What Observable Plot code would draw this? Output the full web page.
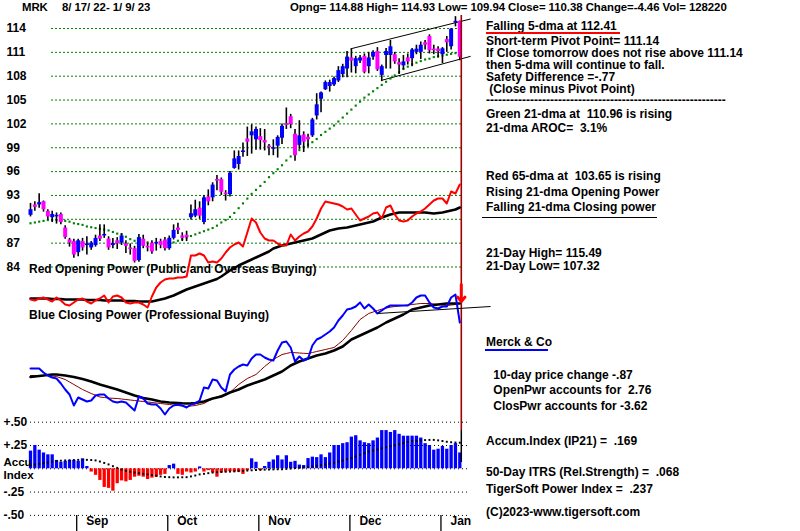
<!DOCTYPE html>
<html><head><meta charset="utf-8">
<script src="https://cdn.jsdelivr.net/npm/d3@7"></script>
<script src="https://cdn.jsdelivr.net/npm/@observablehq/plot@0.6"></script>
<style>
body{margin:0;background:#fff;}
#c{position:relative;width:800px;height:531px;overflow:hidden;font-family:"Liberation Sans",Arial,sans-serif;font-weight:bold;font-size:12px;color:#000;}
#c svg{position:absolute;left:0;top:0;}
.t{position:absolute;white-space:pre;line-height:11px;}
#c .h{font-size:11.4px;letter-spacing:-0.05px;}
.u{position:absolute;}
</style></head><body><div id="c"></div>
<script>
// ---- price candles (trading days 8/17/22 .. 1/9/23) ----
const opens = [90.5,91.8,91.8,92.2,91.0,90.2,90.3,90.6,88.9,87.4, 87.2,85.8,87.2,86.7,86.4,86.7,87.9,87.9,87.5,86.7, 87.3,87.0,86.9,86.4,86.3,84.8,87.5,86.6,87.0,86.9, 87.2,87.4,86.3,87.6,88.9,87.9,88.0,90.2,90.4,91.4, 89.6,92.8,92.7,95.0,95.0,93.3,93.1,96.4,96.9,98.4, 100.1,100.5,100.0,100.4,99.9,99.2,98.8,99.2,100.2,102.0, 102.9,100.7,99.3,100.6,100.3,100.5,103.0,105.1,106.3,106.7, 106.9,107.4,108.2,108.9,110.3,109.2,109.9,110.5,109.2,110.4, 111.1,108.1,110.6,110.6,110.7,109.7,109.3,110.3,110.2,111.0, 111.0,112.2,113.0,111.4,111.4,110.7,112.6,111.7,114.7,114.88];
const highs = [92.0,92.2,93.2,92.3,91.2,91.0,90.8,90.8,89.2,87.6, 87.5,87.5,87.6,87.8,87.2,88.0,89.3,89.3,87.8,87.6, 87.7,88.2,87.3,86.9,86.6,88.1,88.0,87.0,87.3,87.6, 87.5,87.7,87.9,89.3,89.5,88.3,88.5,91.8,92.4,92.2, 93.0,93.7,94.6,95.5,95.2,93.6,96.0,98.6,98.6,99.6, 101.6,101.9,101.6,101.4,101.3,99.4,100.0,100.5,102.0,104.0, 103.2,101.3,102.4,101.0,100.7,102.7,105.8,106.0,107.4,107.5, 107.9,109.2,109.5,111.1,111.4,110.5,110.6,110.8,111.0,111.2, 111.6,109.4,111.5,112.5,111.0,110.2,110.6,110.8,111.5,111.9, 112.3,112.5,113.2,111.9,111.7,111.6,113.0,114.0,115.49,114.93];
const lows = [90.3,91.0,91.4,90.9,89.9,89.6,89.4,89.3,87.5,86.5, 85.1,85.3,86.0,85.5,86.1,86.5,87.2,87.6,86.1,86.3, 86.2,86.7,85.7,85.5,84.5,84.6,86.3,85.9,85.6,86.0, 86.3,86.0,86.1,87.4,88.1,87.2,87.2,89.9,90.2,90.0, 89.3,91.7,92.2,93.6,93.0,92.3,92.8,96.3,96.2,97.8, 97.9,98.2,98.7,98.7,98.6,98.0,98.0,97.7,99.4,101.3, 101.4,97.3,98.8,98.4,99.0,100.3,102.5,103.4,106.2,106.0, 106.7,107.2,107.8,107.8,108.4,108.3,109.6,108.3,108.3,110.0, 108.6,107.32,108.9,108.9,109.5,108.2,108.8,109.4,109.2,110.7, 110.1,111.3,110.8,110.7,110.3,109.6,111.0,111.3,114.2,109.94];
const closes = [91.2,91.5,92.1,91.2,90.3,90.6,90.5,89.6,87.7,87.0, 85.5,87.3,86.4,86.9,87.0,87.6,87.5,88.1,86.4,86.95, 86.9,87.9,86.6,86.2,84.7,87.7,86.6,86.4,85.9,87.1, 86.7,86.3,87.6,88.6,88.6,87.6,87.7,90.7,91.2,90.4, 92.7,92.2,94.3,94.8,93.4,93.1,95.8,97.6,97.9,98.6, 99.7,101.0,101.3,99.9,99.6,99.0,99.0,100.3,101.7,101.8, 101.9,98.0,100.5,99.7,100.0,102.5,104.4,105.9,107.2,107.2, 107.7,108.7,109.2,110.4,109.9,110.2,110.3,108.5,110.3,111.0, 108.8,109.2,111.1,111.7,109.8,109.4,109.8,109.8,111.3,111.4, 111.9,111.9,111.2,111.2,111.1,111.45,112.2,113.9,114.9,110.38];
// green 21-dma and red 65-dma
const ma21 = [89.5,89.6,89.7,89.8,89.9,89.9,89.9,89.9,89.8,89.7, 89.5,89.4,89.3,89.1,89.0,88.9,88.8,88.7,88.6,88.4, 88.2,88.1,87.8,87.5,87.3,87.2,87.1,87.1,87.0,87.0, 87.0,87.0,87.0,87.1,87.3,87.5,87.7,87.9,88.1,88.3, 88.5,88.7,88.9,89.2,89.6,89.9,90.3,90.8,91.4,92.0, 92.6,93.2,93.7,94.2,94.7,95.3,95.8,96.3,96.8,97.4, 97.9,98.3,98.7,99.1,99.4,99.7,100.1,100.6,101.0,101.4, 101.8,102.3,102.8,103.3,103.8,104.3,104.8,105.3,105.7,106.1, 106.5,106.9,107.3,107.7,108.1,108.5,108.9,109.2,109.5,109.7, 109.9,110.1,110.2,110.4,110.5,110.6,110.7,110.8,110.9,110.96];
const ma65 = [90.9,90.8,90.7,90.7,90.6,90.5,90.5,90.4,90.3,90.2, 90.1,90.0,89.9,89.9,89.9,89.8,89.8,89.8,89.8,89.8, 89.9,89.9,89.9,89.9,89.9,89.8,89.8,89.7,89.6,89.5, 89.4,89.3,89.2,89.15,89.1,89.0,89.0,88.9,88.9,88.9, 88.9,88.9,88.9,88.9,89.0,89.1,89.2,89.3,89.4,89.6, 89.7,89.9,90.1,90.3,90.5,90.7,90.8,90.9,91.1,91.2, 91.3,91.5,91.6,91.8,92.1,92.3,92.6,92.9,93.1,93.3, 93.6,93.8,94.0,94.3,94.5,94.8,95.1,95.5,95.8,96.2, 96.5,96.8,97.2,97.5,97.9,98.3,98.7,99.1,99.5,100.0, 100.4,100.8,101.3,101.7,102.0,102.4,102.8,103.2,103.5,103.7];
// Opening power (red) and its MA (black), arbitrary units
const openPower = [11,10,12,13,11,9,13,10,6,5, 8,11,12,9,7,10,12,15,8,14, 15,13,8,7,8,8,6,3,14,23, 28,31,32,32,33,33,34,55,55,57, 55,48,49,48,52,58,63,66,68,64, 78,92,88,78,72,70,70,67,65,65, 76,70,74,77,79,84,92,102,109,108, 107,106,104,101,102,96,90,92,94,97, 98,92,103,105,96,90,89,90,94,97, 99,102,106,110,112,112,107,119,117,126];
const openPowerMA = [12,12,12,12,12,11.5,11.5,11.5,11,11, 11,11,11,10.5,10.5,10.5,10.5,10,10,10, 10,10,9.5,9.5,9.5,9,9,9,9,10, 11,12,13.5,15,17,19,21,22.5,24,25.5, 27,28.5,30,31.5,34,37,40,42.5,45,47, 49,51,53,55,57,59,62,63.5,65,66, 67,68,69,70,71,72,74,76,78,80, 81,82,82.5,83,84,85,86,87,88,89, 91,93,94.5,96,97,98,98,98,98,98, 98,98,97.5,97,97.5,98,99,100,101,103];
// Closing power (blue) and its MAs (brown thin, black thick), arbitrary units
const closePower = [52,52,52,48,45,43,42,37,31,26, 15,23,21,19,20,25,26,26,22,19, 18,19,18,14,10,24,22,17,16,16, 12,6,12,15,16,15,13,16,17,20, 33,32,41,40,33,29,46,51,54,56, 55,62,66,66,63,61,60,70,78,79, 73,59,64,60,62,75,81,83,86,89, 93,100,105,111,112,114,118,112,116,112, 107,110,113,115,115,115,115,115,118,123, 125,125,118,113,112,114,114,123,126,98];
const closePowerMA = [43.5,44,44.5,45,45.5,46,46,45.5,45,44.3, 43.5,42.5,41.5,40.3,39,37.5,36,34.8,33.5,32.3, 31,29.5,28,26.5,25,23.8,22.5,21.8,21,20, 19,18.5,18,17.8,17.5,17.2,17,17.2,17.5,18.2, 19,20.5,22,23,24,26,28,29.5,31,33, 35,36.5,38,39.5,41,43,45,47,49,52, 55,57,59,60.5,62,63.5,65,66,67,68.5, 70,72,74,77.5,81,83,85,87,89,91, 93,95.5,98,100,102,104,106,108.5,111,112, 113,114,115,115.5,116,116.5,117,117,117,117];
const closePowerMA2 = [45,45,45,45,45,44.5,44,42.5,41,38.5, 36,33.5,31,29,27,25.3,23.5,23,22.5,22.2, 22,21.5,21,20.5,20,19.5,19,18.5,18,17.5, 17,16.5,16,15.5,15,14.5,14,14.5,15,16, 17,19.5,22,23.5,25,26.5,28,32,36,39, 42,44,46,50,54,57.5,61,63.5,66,67, 68,67.8,67.5,67.2,67,68,69,70,71,72, 73,76.5,80,85,90,95.5,101,104,107,108.5, 110,111.3,112.5,113.3,114,114.5,115,115.5,116,116.5, 117,117,117,116.5,116,115.5,115,115.5,116,117];
// Accumulation index (IP21) and its MA
const accum = [0.19,0.25,0.20,0.17,0.15,0.15,0.09,0.07,0.08,0.09, 0.09,0.08,0.107,0.025,-0.035,-0.07,-0.125,-0.20,-0.21,-0.24, -0.16,-0.13,-0.14,-0.125,-0.09,-0.08,-0.09,-0.115,-0.10,-0.09, -0.07,-0.06,0.035,0.05,-0.06,-0.07,-0.035,-0.045,-0.035,0.02, -0.035,-0.02,-0.045,-0.09,-0.045,-0.035,-0.03,-0.035,-0.035,-0.06, -0.02,0.107,0.07,-0.02,0.025,0.07,0.095,0.14,0.095,0.14, 0.07,0.08,0.04,0.035,0.11,0.125,0.12,0.15,0.12,0.17, 0.25,0.25,0.27,0.28,0.34,0.355,0.30,0.28,0.27,0.30, 0.33,0.41,0.41,0.39,0.41,0.37,0.35,0.35,0.35,0.35, 0.33,0.27,0.25,0.20,0.21,0.24,0.21,0.25,0.27,0.17];
const accumMA = [0.035,0.045,0.052,0.06,0.068,0.077,0.083,0.087,0.09,0.092, 0.094,0.096,0.097,0.096,0.094,0.09,0.078,0.063,0.047,0.028, 0.01,-0.008,-0.022,-0.032,-0.04,-0.047,-0.054,-0.06,-0.067,-0.075, -0.082,-0.088,-0.09,-0.092,-0.092,-0.091,-0.09,-0.082,-0.072,-0.06, -0.054,-0.047,-0.04,-0.036,-0.034,-0.032,-0.03,-0.028,-0.025,-0.022, -0.019,-0.016,-0.013,-0.011,-0.009,-0.008,-0.006,-0.005,-0.004,-0.001, 0.003,0.007,0.011,0.015,0.019,0.025,0.032,0.039,0.046,0.055, 0.065,0.077,0.089,0.102,0.115,0.132,0.15,0.167,0.183,0.196, 0.207,0.219,0.23,0.243,0.252,0.262,0.275,0.287,0.297,0.301, 0.305,0.308,0.31,0.31,0.305,0.298,0.29,0.285,0.282,0.28];
// ticks / labels
const priceTicks = [114,111,108,105,102,99,96,93,90,87,84];
const accTicks = [0.5,0.25,0,-0.25,-0.5];
const accLabels = [{v:0.5,t:"+.50"},{v:0.25,t:"+.25"},{v:-0.25,t:"-.25"},{v:-0.5,t:"-.50"}];
const months = [{i:11,m:"Sep"},{i:32,m:"Oct"},{i:53,m:"Nov"},{i:74,m:"Dec"},{i:95,m:"Jan"}];
// trend channel and signal annotations (in data units)
const channel = [{i1:73.8,v1:111.44,i2:101.5,v2:115.2},{i1:81.1,v1:107.5,i2:101.5,v2:110.5}];
const pivotLine = [{i1:80,v1:107,i2:106.1,v2:114}];
const signalArrow = [{i:99,from:136,to:119}];
const lastDay = [99];

const container = document.getElementById("c");
const idx = d3.range(opens.length);
const F = {fontFamily:"Liberation Sans, Arial, sans-serif", fontSize:12, fontWeight:"bold", fill:"black"};
const X = {domain:[0,99], range:[30,459.3], axis:null};
function layer(y, marks){
  const svg = Plot.plot({width:800,height:531,margin:0,x:X,y:{...y,axis:null},color:{type:"identity"},
    style:"background:transparent;overflow:visible", marks});
  container.append(svg);
}
// price panel
layer({domain:[84,114], range:[266.5,28]}, [
  Plot.ruleY(priceTicks,{y:d=>d,stroke:"#008000",strokeDasharray:"2,2",insetLeft:51,insetRight:338}),
  Plot.text(priceTicks,{y:d=>d,text:d=>String(d),frameAnchor:"left",dx:6,textAnchor:"start",...F}),
  Plot.link(channel,{x1:"i1",y1:"v1",x2:"i2",y2:"v2",stroke:"black",strokeWidth:1}),
  Plot.dot(idx,{x:d=>d,y:i=>ma21[i],symbol:"square",r:1.2,fill:"#008000"}),
  Plot.dot(idx,{x:d=>d,y:i=>ma65[i],symbol:"plus",r:2.9,fill:"#ff0000"}),
  Plot.ruleX(idx,{x:d=>d,y1:i=>lows[i],y2:i=>highs[i],stroke:"black",strokeWidth:1.6}),
  Plot.ruleX(idx,{x:d=>d,y1:i=>opens[i],y2:i=>closes[i],stroke:i=>closes[i]>=opens[i]?"#0000ff":"#ff00ff",strokeWidth:4}),
  Plot.ruleX(lastDay,{x:d=>d,stroke:"#a00000",strokeWidth:1.6,insetTop:15,insetBottom:101,dx:1.5})
]);
// opening power
layer({domain:[0,130], range:[310,180]}, [
  Plot.line(idx,{x:d=>d,y:i=>openPowerMA[i],stroke:"black",strokeWidth:2.5}),
  Plot.line(idx,{x:d=>d,y:i=>openPower[i],stroke:"#ff0000",strokeWidth:2})
]);
// closing power
layer({domain:[0,130], range:[420,290]}, [
  Plot.line(idx,{x:d=>d,y:i=>closePowerMA2[i],stroke:"#8b0000",strokeWidth:1}),
  Plot.line(idx,{x:d=>d,y:i=>closePowerMA[i],stroke:"black",strokeWidth:2.5}),
  Plot.line(idx,{x:d=>d,y:i=>closePower[i],stroke:"#0000ff",strokeWidth:2}),
  Plot.link(pivotLine,{x1:"i1",y1:"v1",x2:"i2",y2:"v2",stroke:"black",strokeWidth:1}),
  Plot.arrow(signalArrow,{x1:"i",x2:"i",y1:"from",y2:"to",stroke:"#ff0000",strokeWidth:3,headLength:12,headAngle:80,dx:1.5})
]);
// accumulation index
layer({domain:[-0.5,0.5], range:[514.9,421.7]}, [
  Plot.ruleY(accTicks,{y:d=>d,stroke:"black",strokeDasharray:"1,3",insetLeft:30,insetRight:330}),
  Plot.ruleX(idx,{x:d=>d,y1:0,y2:i=>accum[i],stroke:i=>accum[i]>=0?"#0000ff":"#ff0000",strokeWidth:3.3}),
  Plot.dot(idx,{x:d=>d,y:i=>accumMA[i],symbol:"square",r:1.1,fill:"black"}),
  Plot.text(accLabels,{y:"v",text:"t",frameAnchor:"left",dx:3,textAnchor:"start",...F}),
  Plot.text(["Accu"],{y:()=>0,text:d=>d,frameAnchor:"left",dx:3,dy:-6,textAnchor:"start",...F,fontSize:11.5}),
  Plot.text(["Index"],{y:()=>0,text:d=>d,frameAnchor:"left",dx:3,dy:7,textAnchor:"start",...F,fontSize:11.5}),
  Plot.ruleX(lastDay,{x:d=>d,stroke:"black",strokeWidth:1.5,insetTop:430,insetBottom:69,dx:1.5}),
  Plot.ruleX(months,{x:"i",stroke:"black",strokeWidth:1.3,insetTop:515,dx:-1.5}),
  Plot.text(months,{x:"i",text:"m",frameAnchor:"bottom",lineAnchor:"middle",dy:-10,dx:8,textAnchor:"start",...F})
]);
// text overlay
const texts = [
  [22,1.5,"MRK","h"],[62,1.5,"8/ 17/ 22- 1/ 9/ 23","h"],
  [290,1.5,"Opng= 114.88 High= 114.93 Low= 109.94 Close= 110.38 Change=-4.46 Vol= 128220","h"],
  [486,20.5,"Falling 5-dma at 112.41"],
  [486,35.5,"Short-term Pivot Point= 111.14"],
  [486,47.5,"If Close tomorrow does not rise above 111.14"],
  [486,59.5,"then 5-dma will continue to fall."],
  [486,71.5,"Safety Difference =-.77"],
  [486,83.5," (Close minus Pivot Point)"],
  [486,95,"------------------------------------------------------------"],
  [486,108.5,"Green 21-dma at  110.96 is rising"],
  [486,122.5,"21-dma AROC=  3.1%"],
  [486,170.5,"Red 65-dma at  103.65 is rising"],
  [486,186.5,"Rising 21-dma Opening Power"],
  [486,201.5,"Falling 21-dma Closing power"],
  [486,247.5,"21-Day High= 115.49"],
  [486,260.5,"21-Day Low= 107.32"],
  [486,337,"Merck & Co"],
  [490,369.5," 10-day price change -.87"],
  [490,384.5," OpenPwr accounts for  2.76"],
  [490,400.5," ClosPwr accounts for -3.62"],
  [486,435.5,"Accum.Index (IP21) =  .169"],
  [486,466.5,"50-Day ITRS (Rel.Strength) =  .068"],
  [486,483.5,"TigerSoft Power Index =  .237"],
  [486,506.5,"(C)2023-www.tigersoft.com"],
  [29,263.5,"Red Opening Power (Public and Overseas Buying)"],
  [29,309.5,"Blue Closing Power (Professional Buying)"]
];
for (const [l,t,s,cls] of texts){
  const d=document.createElement("div"); d.className="t"+(cls?" "+cls:""); d.style.left=l+"px"; d.style.top=t+"px"; d.textContent=s; container.append(d);
}
const unders = [[486,31.5,134,2,"#ff0000"],[482,216.5,175,1.5,"#000"],[485,348.5,63,2,"#0000ff"]];
for (const [l,t,w,h,c] of unders){
  const d=document.createElement("div"); d.className="u"; Object.assign(d.style,{left:l+"px",top:t+"px",width:w+"px",height:h+"px",background:c}); container.append(d);
}
</script></body></html>
